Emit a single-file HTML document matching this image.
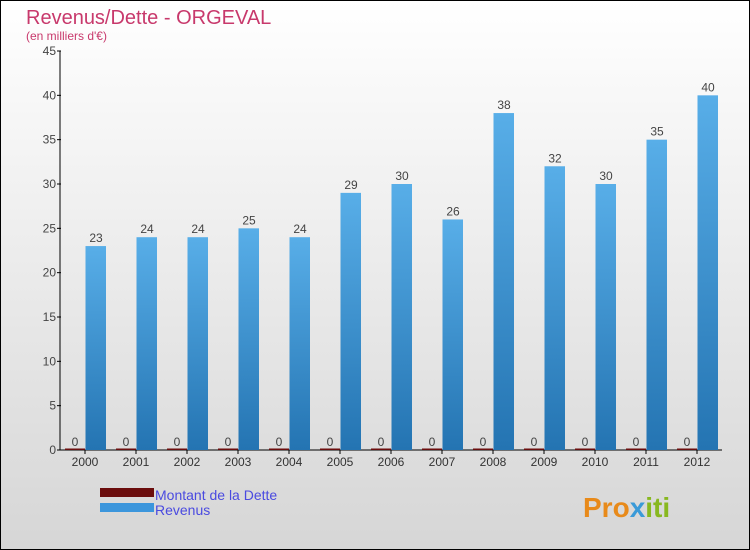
<!DOCTYPE html>
<html><head><meta charset="utf-8"><style>
body{margin:0;}
svg{display:block;font-family:"Liberation Sans",sans-serif;}
</style></head><body>
<svg width="750" height="550" xmlns="http://www.w3.org/2000/svg">
<defs>
<linearGradient id="bg" x1="0" y1="0" x2="0" y2="1"><stop offset="0" stop-color="#ffffff"/><stop offset="1" stop-color="#d6d6d6"/></linearGradient>
<linearGradient id="bar" x1="0" y1="0" x2="0" y2="1"><stop offset="0" stop-color="#58aee8"/><stop offset="1" stop-color="#2474b2"/></linearGradient>
</defs>
<rect x="0.5" y="0.5" width="749" height="549" fill="url(#bg)" stroke="#000"/>
<text x="26" y="24" font-size="20" fill="#c8396c">Revenus/Dette - ORGEVAL</text>
<text x="26" y="40" font-size="12" fill="#c8396c">(en milliers d'€)</text>
<g id="axes"></g>
<g id="bars"></g>
<g>
<rect x="100" y="488" width="54" height="9" fill="#6b0d0d"/>
<text x="155" y="500" font-size="14" fill="#4a4ae0">Montant de la Dette</text>
<rect x="100" y="503" width="54" height="9" fill="#3c96dc"/>
<text x="155" y="515" font-size="14" fill="#4a4ae0">Revenus</text>
</g>
<text x="583" y="517" font-size="28" font-weight="bold" fill="#e88a1a">Pro<tspan fill="#3a9ad8">x</tspan><tspan fill="#88b820">iti</tspan></text>
</svg>
<script>
const years=["2000","2001","2002","2003","2004","2005","2006","2007","2008","2009","2010","2011","2012"];
const dette=[0,0,0,0,0,0,0,0,0,0,0,0,0];
const revenus=[23,24,24,25,24,29,30,26,38,32,30,35,40];
const yTicks=[0,5,10,15,20,25,30,35,40,45];
const NS="http://www.w3.org/2000/svg";
const y0=450,yTop=51,yMax=45;
const yS=v=>y0-(v/yMax)*(y0-yTop);
const xS=i=>85+i*51;
function mk(t,a,p){const e=document.createElementNS(NS,t);for(const k in a)e.setAttribute(k,a[k]);p.appendChild(e);return e;}
const ax=document.getElementById('axes'),bg=document.getElementById('bars');
yTicks.forEach(v=>{
 const l=mk('line',{x1:57,x2:61,y1:yS(v),y2:yS(v),stroke:'#000'},ax);
 
 
 const t=mk('text',{x:56,y:yS(v)+4,'font-size':12,fill:'#444','text-anchor':'end'},ax);
 t.textContent=v;
 
 
});
let a=mk('line',{x1:60,x2:60,y1:yTop,y2:y0,stroke:'#000'},ax);


a=mk('line',{x1:60,x2:722,y1:y0,y2:y0,stroke:'#000'},ax);


years.forEach((yr,i)=>{
 const x=xS(i);
 const tk=mk('line',{x1:x,x2:x,y1:y0,y2:y0+4,stroke:'#000'},ax);
 
 
 const t=mk('text',{x:x,y:466,'font-size':12,fill:'#333','text-anchor':'middle'},ax);
 t.textContent=yr;
 
 
 const dh=Math.max(1.5,y0-yS(dette[i]));
 const d=mk('rect',{x:x-20,y:y0-dh,width:20,height:dh,fill:'#6b0d0d'},bg);
 
 
 const dl=mk('text',{x:x-10,y:yS(dette[i])-4,'font-size':12,fill:'#444','text-anchor':'middle'},bg);
 dl.textContent=dette[i];
 
 
 const r=mk('rect',{x:x+0.5,y:yS(revenus[i]),width:20.5,height:y0-yS(revenus[i]),fill:'url(#bar)'},bg);
 
 
 const rl=mk('text',{x:x+11,y:yS(revenus[i])-4,'font-size':12,fill:'#444','text-anchor':'middle'},bg);
 rl.textContent=revenus[i];
 
 
});
</script>
</body></html>
